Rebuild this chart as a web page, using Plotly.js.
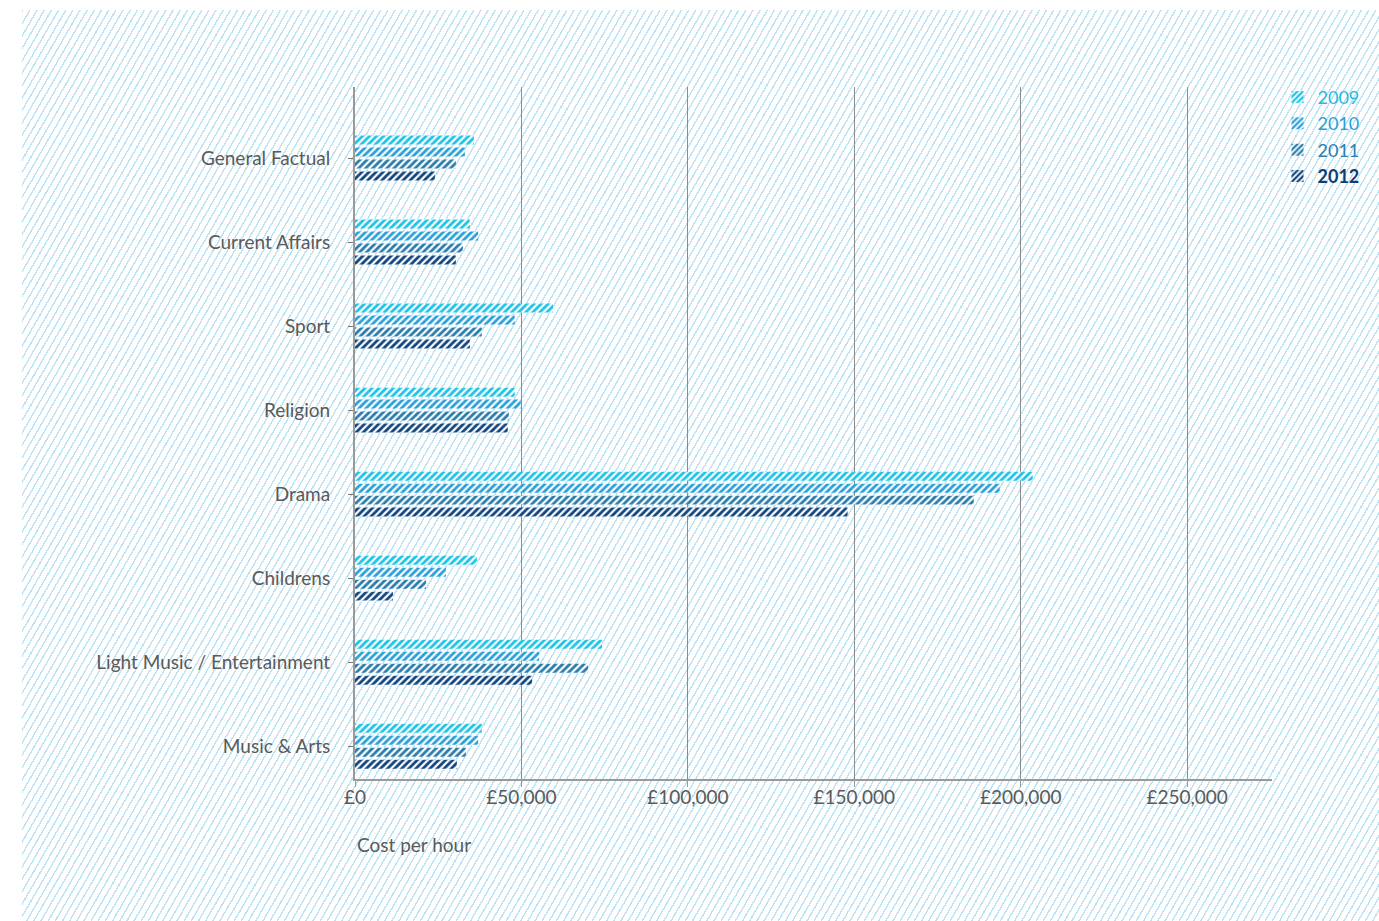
<!DOCTYPE html>
<html>
<head>
<meta charset="utf-8">
<script src="https://cdn.plot.ly/plotly-3.0.1.min.js"></script>
<style>
  html, body { margin: 0; padding: 0; background: #ffffff; }
  #wrap { position: relative; width: 1379px; height: 921px; overflow: hidden; }
  #hatch {
    position: absolute; left: 22px; top: 10px; width: 1357px; height: 911px;
    background: repeating-linear-gradient(120deg, #bde3f2 0px, #bde3f2 1.4px, rgba(255,255,255,0) 1.4px, rgba(255,255,255,0) 6.2px);
  }
  #chart { position: absolute; left: 0; top: 0; width: 1379px; height: 921px; }
</style>
</head>
<body>
<div id="wrap">
  <div id="hatch"></div>
  <div id="chart"></div>
</div>
<script>
// ---- Data ----
const categories = ["General Factual", "Current Affairs", "Sport", "Religion", "Drama", "Childrens", "Light Music / Entertainment", "Music & Arts"];
const years = ["2009", "2010", "2011", "2012"];
const values2009 = [35700, 34500, 59500, 48000, 203600, 36600, 74200, 38100];
const values2010 = [33000, 37000, 48000, 49800, 193700, 27300, 55300, 37000];
const values2011 = [30300, 32400, 38100, 46200, 185900, 21300, 70000, 33300];
const values2012 = [24000, 30300, 34500, 45900, 148000, 11400, 53200, 30600];
const xTickVals = [0, 50000, 100000, 150000, 200000, 250000];
const xTickText = ["£0", "£50,000", "£100,000", "£150,000", "£200,000", "£250,000"];
const axisTitle = "Cost per hour";

// ---- Styles ----
const seriesValues = [values2009, values2010, values2011, values2012];
const barColors = ["#1ec3e8", "#2aa0da", "#2a7cab", "#12457f"];
const legendColors = ["#1fbbe6", "#2a9fd8", "#2a80b2", "#0c3f78"];
const fontFamily = "Lato, 'Open Sans', sans-serif";
const textColor = "#5a5a5a";

const traces = years.map((yr, i) => ({
  type: "bar",
  orientation: "h",
  name: i === 3 ? `<b><span style="color:${legendColors[i]}">${yr}</span></b>` : `<span style="color:${legendColors[i]}">${yr}</span>`,
  y: categories,
  x: seriesValues[i],
  marker: {
    color: barColors[i],
    line: { width: 0 },
    pattern: {
      shape: "/",
      fgcolor: barColors[i],
      bgcolor: "rgba(255,255,255,0.85)",
      size: 5,
      solidity: 0.55,
      fillmode: "replace"
    }
  },
  hoverinfo: "x+y"
}));

const layout = {
  width: 1379,
  height: 921,
  paper_bgcolor: "rgba(0,0,0,0)",
  plot_bgcolor: "rgba(0,0,0,0)",
  margin: { l: 355, r: 107, t: 87, b: 142, pad: 0 },
  barmode: "group",
  bargap: 0.43,
  bargroupgap: 0.25,
  font: { family: fontFamily, size: 19, color: textColor },
  showlegend: true,
  legend: {
    x: 1.006, xanchor: "left",
    y: 1.012, yanchor: "top",
    traceorder: "normal",
    bgcolor: "rgba(0,0,0,0)",
    font: { family: fontFamily, size: 18, color: textColor },
    itemwidth: 30,
    tracegroupgap: 0
  },
  xaxis: {
    range: [0, 275500],
    tickvals: xTickVals,
    ticktext: xTickText,
    showgrid: true,
    gridcolor: "#8c8c8c",
    gridwidth: 1,
    zeroline: false,
    showline: true,
    linecolor: "#9a9a9a",
    linewidth: 1.5,
    ticks: "outside",
    ticklen: 6,
    tickcolor: "#9a9a9a",
    ticklabelstandoff: -5,
    tickfont: { family: fontFamily, size: 19, color: textColor },
    fixedrange: true
  },
  yaxis: {
    type: "category",
    range: [7.39, -0.845],
    showgrid: false,
    zeroline: false,
    showline: true,
    linecolor: "#9a9a9a",
    linewidth: 2,
    ticks: "outside",
    ticklen: 5,
    tickcolor: "#777777",
    ticklabelstandoff: 14,
    tickfont: { family: fontFamily, size: 19, color: textColor },
    fixedrange: true
  },
  annotations: [{
    text: axisTitle,
    xref: "paper", yref: "paper",
    x: 0, xanchor: "left",
    y: -0.094, yanchor: "middle",
    showarrow: false,
    font: { family: fontFamily, size: 19, color: textColor }
  }]
};

Plotly.newPlot("chart", traces, layout, { displayModeBar: false, staticPlot: true });
</script>
</body>
</html>
